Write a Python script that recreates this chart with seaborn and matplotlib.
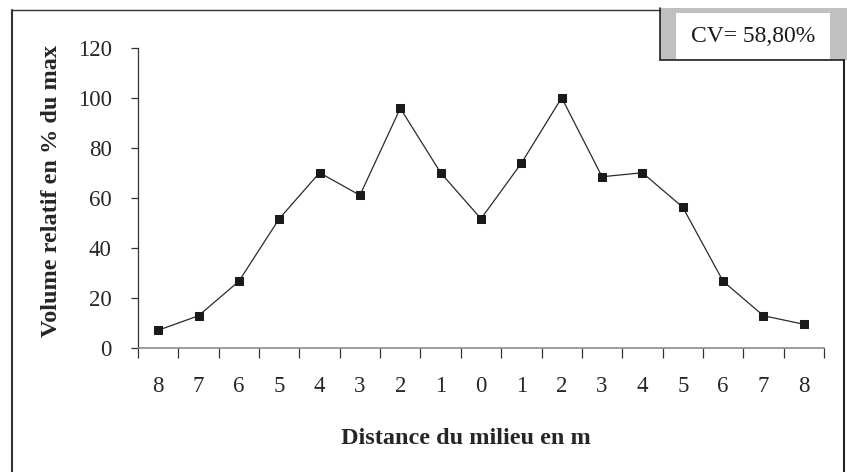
import matplotlib
matplotlib.use("Agg")
import matplotlib.pyplot as plt
import seaborn as sns
import pandas as pd
import numpy as np
from matplotlib.patches import Rectangle
from matplotlib.lines import Line2D

# ---- data ----
distance_labels = ["8", "7", "6", "5", "4", "3", "2", "1", "0",
                   "1", "2", "3", "4", "5", "6", "7", "8"]
volume_pct = [7.1, 12.9, 26.7, 51.7, 70.1, 61.1, 95.9, 70.1, 51.7,
              73.9, 100.1, 68.5, 70.1, 56.3, 26.7, 12.9, 9.5]
y_ticks = [0, 20, 40, 60, 80, 100, 120]
cv_text = "CV= 58,80%"
x_title = "Distance du milieu en m"
y_title = "Volume relatif en % du max"

sns.set_theme(style="white")
plt.rcParams['font.family'] = ['Liberation Serif', 'DejaVu Serif']

W, H = 847, 472
fig = plt.figure(figsize=(W / 100, H / 100), dpi=100)
fig.patch.set_facecolor("white")

def fx(px):
    return px / W

def fy(py):
    return 1 - py / H

ax = fig.add_axes([fx(138), fy(348), 686 / W, 300 / H])
ax.set_facecolor("white")

df = pd.DataFrame({"pos": np.arange(len(volume_pct)), "volume": volume_pct})
sns.lineplot(data=df, x="pos", y="volume", ax=ax, color="#2a2a2a",
             linewidth=0.9, marker="s", markersize=6.2,
             markerfacecolor="#1a1a1a", markeredgecolor="#1a1a1a")

ax.set_xlim(-0.5, len(volume_pct) - 0.5)
ax.set_ylim(0, 120)

for s in ["top", "right"]:
    ax.spines[s].set_visible(False)
ax.spines["left"].set_color("#333333")
ax.spines["left"].set_linewidth(0.9)
ax.spines["bottom"].set_color("#8a8a8a")
ax.spines["bottom"].set_linewidth(1.2)

ax.set_yticks(y_ticks)
ax.set_yticklabels([str(v) for v in y_ticks])
ax.tick_params(axis="y", which="major", direction="out", length=5, width=0.9,
               color="#333333", labelsize=16.5, pad=14, left=True)

ax.set_xticks(np.arange(-0.5, len(volume_pct)), labels=[])
ax.set_xticks(np.arange(len(volume_pct)), labels=distance_labels, minor=True)
ax.tick_params(axis="x", which="major", direction="out", length=7, width=0.9,
               color="#333333", bottom=True)
ax.tick_params(axis="x", which="minor", length=0, labelsize=16.5, pad=20,
               bottom=True)

ax.set_xlabel(x_title, fontsize=17.5, fontweight="bold")
ax.set_ylabel(y_title, fontsize=17.5, fontweight="bold")
ax.xaxis.label.set_va("center")
ax.yaxis.label.set_va("center")
ax.xaxis.set_label_coords((466 - 138) / 686, (348 - 438) / 300)
ax.yaxis.set_label_coords((52 - 138) / 686, 0.5 - (191 - 198) / 300)
ax.grid(False)

# ---- outer frame and CV box ----
lw = 1.0
fig.add_artist(Line2D([fx(12), fx(660)], [fy(10), fy(10)], color="#333333", lw=lw))
fig.add_artist(Line2D([fx(12), fx(12)], [fy(10), fy(475)], color="#333333", lw=1.5))
fig.add_artist(Line2D([fx(844), fx(844)], [fy(60), fy(475)], color="#222222", lw=1.5))

fig.add_artist(Rectangle((fx(660), fy(60)), fx(850) - fx(660), fy(8) - fy(60),
                         facecolor="#c0c0c0", edgecolor="none",
                         transform=fig.transFigure))
fig.add_artist(Rectangle((fx(676), fy(59)), fx(830) - fx(676), fy(13) - fy(59),
                         facecolor="white", edgecolor="none",
                         transform=fig.transFigure))
fig.add_artist(Line2D([fx(660), fx(660)], [fy(8), fy(60)], color="#222222", lw=1.2))
fig.add_artist(Line2D([fx(660), fx(844)], [fy(60), fy(60)], color="#222222", lw=1.2))
fig.text(fx(753), fy(36), cv_text, ha="center", va="center", fontsize=17,
         color="#1a1a1a")

fig.savefig("out.png", dpi=100, facecolor="white")
